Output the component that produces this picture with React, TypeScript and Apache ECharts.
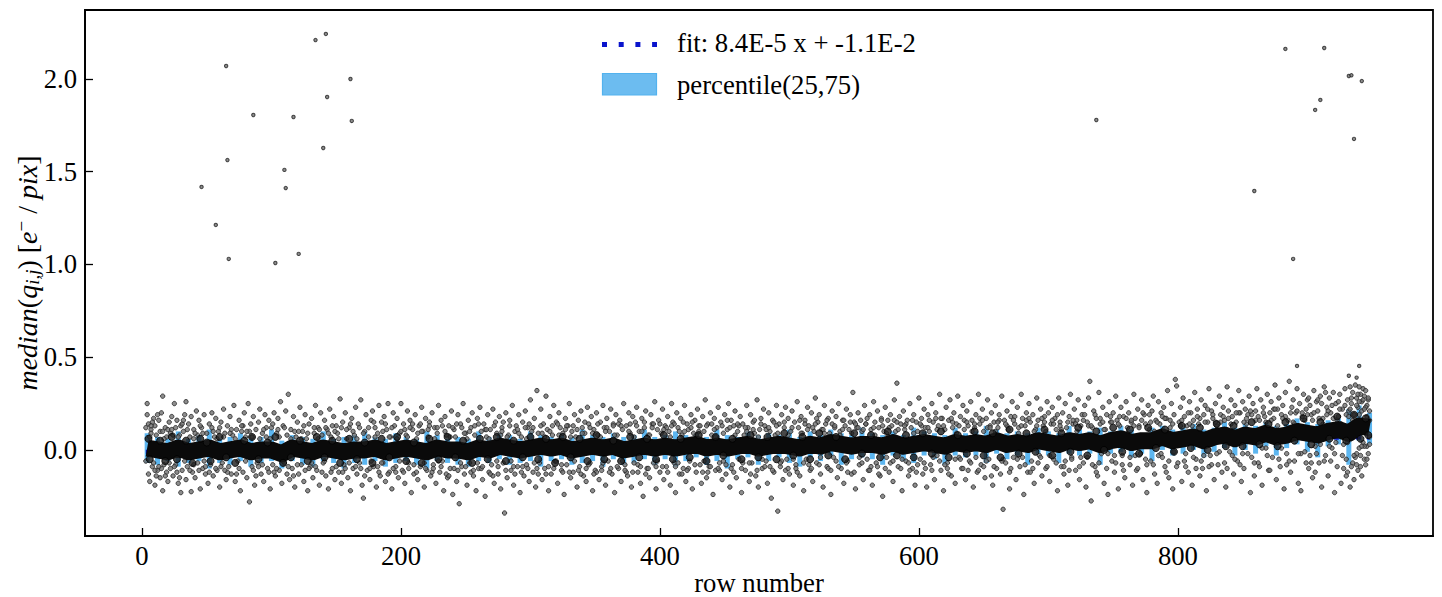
import React, { useEffect, useRef } from "react";
import * as echarts from "echarts";

const xTicks = [0, 200, 400, 600, 800];
const yTicks = [0, 0.5, 1, 1.5, 2];
const fitRows = [3, 948];
const fitValues = [-0.011, 0.069];

const bandRows = [4,12,20,28,36,44,52,60,68,76,84,92,100,108,116,124,132,140,148,156,164,172,180,188,196,204,212,220,228,236,244,252,260,268,276,284,292,300,308,316,324,332,340,348,356,364,372,380,388,396,404,412,420,428,436,444,452,460,468,476,484,492,500,508,516,524,532,540,548,556,564,572,580,588,596,604,612,620,628,636,644,652,660,668,676,684,692,700,708,716,724,732,740,748,756,764,772,780,788,796,804,812,820,828,836,844,852,860,868,876,884,892,900,908,916,924,932,940,948];
const bandMedian = [.01,.00,-.01,.01,-.01,.00,.01,-.01,.00,.01,-.01,.00,.00,-.02,.01,.00,-.01,.01,.00,-.01,.00,.00,.01,-.01,.00,.01,.00,-.01,.01,.00,.00,-.01,.01,.00,.02,.01,.00,.01,.02,.01,.02,.00,.01,.02,.01,.02,.00,.01,.02,.01,.02,.01,.02,.03,.01,.02,.01,.02,.03,.01,.02,.03,.02,.01,.03,.02,.04,.03,.02,.03,.03,.02,.04,.02,.03,.04,.03,.02,.04,.03,.04,.03,.05,.03,.04,.03,.05,.04,.03,.05,.04,.05,.03,.05,.06,.04,.05,.05,.07,.05,.06,.07,.05,.07,.08,.06,.08,.07,.09,.07,.08,.10,.09,.08,.10,.11,.09,.13,.12];
const bandLow = [-.07,-.08,-.06,-.09,-.07,-.06,-.10,-.07,-.08,-.06,-.09,-.07,-.06,-.10,-.06,-.08,-.09,-.06,-.07,-.10,-.07,-.08,-.06,-.09,-.07,-.06,-.08,-.10,-.06,-.07,-.08,-.09,-.06,-.07,-.05,-.08,-.07,-.06,-.09,-.06,-.05,-.08,-.07,-.06,-.09,-.05,-.08,-.07,-.05,-.08,-.05,-.09,-.06,-.04,-.08,-.06,-.10,-.05,-.04,-.08,-.06,-.04,-.07,-.09,-.04,-.06,-.03,-.08,-.05,-.04,-.05,-.08,-.03,-.06,-.07,-.03,-.05,-.08,-.03,-.04,-.03,-.07,-.02,-.05,-.03,-.08,-.02,-.03,-.07,-.02,-.03,-.02,-.08,-.02,-.01,-.04,-.02,-.06,.00,-.03,-.02,.00,-.04,-.01,.01,-.03,.00,-.02,.02,-.03,.01,.03,-.01,-.04,.02,.03,-.08,.05,.03];
const bandHigh = [.09,.07,.06,.10,.06,.08,.11,.06,.07,.09,.06,.07,.11,.05,.08,.07,.06,.10,.06,.07,.08,.10,.07,.06,.09,.07,.06,.10,.08,.06,.07,.06,.10,.07,.09,.08,.06,.10,.08,.07,.09,.07,.11,.08,.07,.09,.07,.08,.11,.07,.08,.10,.08,.09,.07,.11,.08,.07,.10,.08,.09,.08,.11,.07,.10,.08,.11,.09,.08,.12,.09,.08,.10,.08,.12,.10,.09,.08,.12,.09,.10,.13,.11,.09,.10,.09,.12,.10,.09,.13,.11,.10,.12,.10,.13,.11,.09,.12,.13,.11,.12,.14,.11,.12,.15,.12,.14,.13,.15,.13,.14,.17,.15,.14,.16,.17,.22,.24,.20];

const outliers = [[65,2.07],[134,2.21],[142,2.243],[161,2.0],[162,1.774],[143,1.903],[140,1.628],[86,1.806],[117,1.795],[110,1.51],[111,1.412],[66,1.563],[46,1.418],[57,1.213],[67,1.03],[103,1.008],[121,1.057],[737,1.779],[859,1.396],[883,2.162],[913,2.167],[889,1.03],[906,1.833],[910,1.887],[932,2.016],[934,2.02],[936,1.677],[942,1.989],[892,.453],[940,.453],[932,.4],[938,.39]];

const cloud = [
[4,.25],[4,.19],[5,.14],[5,-.13],[6,-.17],[7,.11],[7,.09],[8,-.09],[9,.17],[9,-.07],[10,.13],[10,-.19],[11,.08],[12,-.11],[13,.16],[14,-.15],[14,.1],[15,.2],[16,.29],[16,-.22],[17,-.08],[18,.12],[19,.07],[19,-.12],[20,-.17],[21,.15],[22,.09],[22,-.1],[23,.18],[24,-.14],[25,.25],[26,-.08],[26,.12],[27,.16],[28,-.18],[29,.08],[30,-.23],[30,.13],[31,-.11],[32,.1],[33,.19],[34,.26],[34,-.16],[35,-.09],[36,.14],[37,.07],[38,-.225],[38,.18],[39,-.12],[40,.11],[41,-.15],[42,.21],[43,.08],[43,-.07],[44,.16],[45,-.21],[46,.12],[47,-.1],[48,.19],[49,-.13],[50,.09],
[51,-.18],[52,.14],[53,-.08],[54,.2],[55,-.14],[56,.07],[57,.17],[58,-.11],[59,.1],[60,-.2],[61,.15],[62,-.07],[63,.22],[64,.09],[65,-.16],[66,.13],[67,-.09],[68,.18],[69,-.13],[70,.08],[71,.24],[72,-.17],[73,.11],[74,-.06],[75,.16],[76,-.22],[77,.1],[78,-.12],[79,.2],[80,.07],[81,-.15],[82,.25],[83,-.28],[84,.14],[85,-.09],[86,.18],[87,-.19],[88,.11],[89,-.07],[90,.15],[91,.22],[92,-.13],[93,.09],[94,-.17],[95,.19],[96,.07],[97,-.1],[98,.16],[99,-.21],[100,.12],
[101,-.08],[102,.2],[103,-.14],[104,.09],[105,.17],[106,-.11],[107,.26],[108,-.18],[109,.13],[110,-.07],[111,.21],[112,.08],[113,.3],[114,-.16],[115,.11],[116,-.1],[117,.18],[118,-.2],[119,.07],[120,.15],[121,-.13],[122,.23],[123,-.08],[124,.1],[125,-.17],[126,.19],[127,.06],[128,-.22],[129,.14],[130,-.09],[131,.17],[132,-.15],[133,.09],[134,.24],[135,-.11],[136,.12],[137,-.19],[138,.2],[139,.08],[140,-.07],[141,.16],[142,-.14],[143,.11],[144,-.21],[145,.22],[146,.07],[147,-.1],[148,.18],[149,-.16],[150,.13],
[151,.09],[152,-.12],[153,.275],[154,-.18],[155,.15],[156,-.08],[157,.2],[158,.06],[159,-.15],[160,.12],[161,-.22],[162,.17],[163,-.1],[164,.08],[165,.23],[166,-.13],[167,.14],[168,-.07],[169,.27],[170,-.19],[171,-.26],[172,.1],[173,.19],[174,-.11],[175,.07],[176,-.16],[177,.16],[178,.21],[179,-.09],[180,.12],[181,-.2],[182,.09],[183,.24],[184,-.14],[185,.15],[186,-.07],[187,.18],[188,-.17],[189,.11],[190,.25],[191,-.12],[192,.07],[193,-.21],[194,.2],[195,.13],[196,-.09],[197,.17],[198,-.15],[199,.09],[200,.25],
[201,-.11],[202,.14],[203,-.18],[204,.08],[205,.21],[206,-.07],[207,.16],[208,-.23],[209,.11],[210,-.13],[211,.19],[212,.06],[213,-.16],[214,.13],[215,-.09],[216,.23],[217,.1],[218,-.2],[219,.17],[220,-.11],[221,.07],[222,.15],[223,-.14],[224,.2],[225,-.08],[226,.12],[227,-.18],[228,.09],[229,.24],[230,-.12],[231,.16],[232,-.06],[233,-.22],[234,.18],[235,.08],[236,-.15],[237,.13],[238,-.1],[239,.21],[240,-.24],[241,.11],[242,.07],[243,-.17],[244,.19],[245,-.29],[246,.14],[247,-.09],[248,.25],[249,-.13],[250,.09],
[251,-.19],[252,.16],[253,-.07],[254,.12],[255,.2],[256,-.14],[257,.08],[258,-.22],[259,.17],[260,-.1],[261,.23],[262,.1],[263,-.16],[264,.14],[265,-.25],[266,.07],[267,.19],[268,-.12],[269,.11],[270,-.08],[271,.22],[272,-.18],[273,.15],[274,.09],[275,-.13],[276,.18],[277,-.21],[278,.12],[279,-.07],[280,-.34],[281,.2],[282,-.15],[283,.08],[284,.16],[285,-.11],[286,.24],[287,-.19],[288,.1],[289,.13],[290,-.09],[291,.19],[292,-.23],[293,.07],[294,.15],[295,-.14],[296,.21],[297,-.08],[298,.12],[299,-.17],[300,.27],
[301,.1],[302,-.12],[303,.17],[304,-.2],[305,.32],[306,.09],[307,-.07],[308,.22],[309,-.16],[310,.14],[311,-.1],[312,.29],[313,.11],[314,-.22],[315,.18],[316,-.13],[317,.08],[318,.24],[319,-.06],[320,.15],[321,-.18],[322,.2],[323,.12],[324,-.11],[325,.09],[326,-.24],[327,.17],[328,-.08],[329,.13],[330,.25],[331,-.15],[332,.1],[333,-.12],[334,.19],[335,.07],[336,-.2],[337,.16],[338,-.09],[339,.21],[340,.12],[341,-.14],[342,.09],[343,-.17],[344,.23],[345,.14],[346,-.07],[347,.18],[348,-.22],[349,.11],[350,-.11],
[351,.2],[352,.08],[353,-.16],[354,.15],[355,-.09],[356,.24],[357,.12],[358,-.19],[359,.17],[360,-.06],[361,.1],[362,.22],[363,-.13],[364,.14],[365,-.23],[366,.19],[367,.08],[368,-.1],[369,.16],[370,-.17],[371,.11],[372,.25],[373,-.08],[374,.13],[375,-.14],[376,.2],[377,.09],[378,-.2],[379,.18],[380,-.07],[381,.15],[382,.23],[383,-.12],[384,.1],[385,-.18],[386,.17],[387,-.25],[388,.12],[389,.21],[390,-.1],[391,.08],[392,-.15],[393,.19],[394,.14],[395,-.07],[396,.26],[397,-.21],[398,.11],[399,.16],[400,-.12],
[401,.09],[402,.22],[403,-.16],[404,.13],[405,-.09],[406,.18],[407,.1],[408,-.19],[409,.25],[410,.15],[411,-.07],[412,-.23],[413,.2],[414,.12],[415,-.13],[416,.17],[417,.08],[418,-.1],[419,.24],[420,-.17],[421,.14],[422,.11],[423,-.06],[424,.19],[425,-.21],[426,.09],[427,.16],[428,-.12],[429,.22],[430,.13],[431,-.08],[432,-.18],[433,.18],[434,.1],[435,.27],[436,-.15],[437,.14],[438,-.09],[439,.2],[440,.08],[441,-.24],[442,.17],[443,-.11],[444,.12],[445,.23],[446,-.07],[447,.15],[448,-.16],[449,.09],[450,.19],
[451,-.13],[452,.11],[453,.25],[454,-.2],[455,.16],[456,-.08],[457,.13],[458,.21],[459,-.15],[460,.1],[461,-.05],[462,.18],[463,-.23],[464,.14],[465,.08],[466,-.11],[467,.24],[468,.12],[469,-.17],[470,.19],[471,-.07],[472,.15],[473,.09],[474,-.14],[475,.27],[476,-.2],[477,.11],[478,.17],[479,-.1],[480,.22],[481,.13],[482,-.06],[483,-.18],[484,.2],[485,.1],[486,-.26],[487,.16],[488,-.12],[489,.08],[490,.24],[491,-.33],[492,.14],[493,-.09],[494,.19],[495,-.16],[496,.12],[497,.23],[498,-.05],[499,.17],[500,-.13],
[501,.1],[502,.21],[503,-.19],[504,.15],[505,-.08],[506,.26],[507,.12],[508,-.14],[509,.18],[510,.09],[511,-.22],[512,.16],[513,-.05],[514,.23],[515,.13],[516,-.11],[517,.2],[518,-.17],[519,.1],[520,.28],[521,-.07],[522,.15],[523,.19],[524,-.13],[525,.11],[526,-.2],[527,.24],[528,.14],[529,-.09],[530,.17],[531,.09],[532,-.24],[533,.21],[534,-.04],[535,.12],[536,.18],[537,-.15],[538,.25],[539,.1],[540,-.1],[541,.16],[542,-.18],[543,.13],[544,.22],[545,-.06],[546,.11],[547,.19],[548,-.13],[549,.31],[550,.15],
[551,-.21],[552,.12],[553,.2],[554,-.08],[555,.16],[556,.1],[557,-.16],[558,.24],[559,.14],[560,-.05],[561,-.11],[562,.19],[563,.11],[564,-.19],[565,.26],[566,.15],[567,-.07],[568,.21],[569,.12],[570,-.14],[571,.17],[572,-.25],[573,.1],[574,.23],[575,-.04],[576,.16],[577,-.12],[578,.19],[579,.13],[580,-.17],[581,.27],[582,.1],[583,.36],[584,-.09],[585,.18],[586,.14],[587,-.22],[588,.21],[589,.11],[590,-.06],[591,.16],[592,-.14],[593,.25],[594,.12],[595,-.1],[596,.19],[597,-.19],[598,.15],[599,.1],[600,.28],
[601,-.05],[602,.17],[603,-.13],[604,.22],[605,.12],[606,-.2],[607,.19],[608,.1],[609,-.08],[610,.25],[611,.15],[612,-.16],[613,.2],[614,-.03],[615,.13],[616,.3],[617,-.11],[618,.17],[619,-.22],[620,.11],[621,.23],[622,-.07],[623,.16],[624,.27],[625,-.14],[626,.12],[627,.2],[628,-.18],[629,.14],[630,.29],[631,-.04],[632,.18],[633,-.1],[634,.24],[635,.11],[636,-.16],[637,.21],[638,.13],[639,-.06],[640,.26],[641,.16],[642,-.2],[643,.12],[644,.19],[645,-.12],[646,.3],[647,.14],[648,-.08],[649,.22],[650,.1],
[651,-.15],[652,.17],[653,.27],[654,-.05],[655,.13],[656,.2],[657,-.19],[658,.15],[659,.24],[660,-.1],[661,.12],[662,.19],[663,-.13],[664,.29],[665,-.32],[666,.16],[667,-.07],[668,.21],[669,.11],[670,-.21],[671,.18],[672,.26],[673,-.04],[674,.14],[675,-.16],[676,.23],[677,.12],[678,-.09],[679,.3],[680,.17],[681,-.24],[682,.13],[683,.2],[684,-.12],[685,.25],[686,.15],[687,-.06],[688,.19],[689,-.18],[690,.11],[691,.28],[692,.16],[693,-.03],[694,.22],[695,-.14],[696,.13],[697,.18],[698,-.1],[699,.26],[700,.2],
[701,-.17],[702,.14],[703,.23],[704,-.05],[705,.17],[706,.11],[707,-.22],[708,.28],[709,.15],[710,-.09],[711,.2],[712,-.13],[713,.25],[714,.12],[715,-.19],[716,.18],[717,.3],[718,-.04],[719,.14],[720,.22],[721,-.11],[722,.16],[723,.27],[724,-.16],[725,.13],[726,.19],[727,-.07],[728,.24],[729,-.2],[730,.15],[731,.28],[732,.37],[733,-.275],[734,.12],[735,.21],[736,-.09],[737,.17],[738,-.14],[739,.31],[740,.14],[741,-.02],[742,.23],[743,-.18],[744,.11],[745,.19],[746,-.24],[747,.26],[748,.15],[749,-.06],[750,.2],
[751,-.12],[752,.29],[753,.16],[754,-.21],[755,.13],[756,.23],[757,-.03],[758,.18],[759,-.15],[760,.26],[761,.12],[762,.2],[763,-.08],[764,.15],[765,-.19],[766,.3],[767,.17],[768,-.11],[769,.22],[770,.13],[771,-.02],[772,.27],[773,-.16],[774,.19],[775,.14],[776,-.23],[777,.24],[778,.11],[779,-.06],[780,.21],[781,.29],[782,-.13],[783,.16],[784,-.18],[785,.26],[786,.14],[787,.2],[788,-.04],[789,.23],[790,-.09],[791,.17],[792,.32],[793,-.15],[794,.12],[795,.25],[796,-.21],[797,.19],[798,.38],[799,.345],[800,-.07],
[801,.15],[802,.23],[803,-.17],[804,.28],[805,.18],[806,-.02],[807,.13],[808,-.12],[809,.26],[810,.2],[811,-.19],[812,.16],[813,.31],[814,-.05],[815,.22],[816,.14],[817,-.14],[818,.27],[819,-.1],[820,.19],[821,.24],[822,-.22],[823,.15],[824,.33],[825,-.03],[826,.21],[827,.17],[828,-.16],[829,.25],[830,.13],[831,-.08],[832,.29],[833,.19],[834,-.12],[835,.23],[836,.16],[837,-.2],[838,.34],[839,.21],[840,-.01],[841,.27],[842,.18],[843,-.13],[844,.24],[845,.15],[846,-.06],[847,.32],[848,.2],[849,-.17],[850,.26],
[851,-.1],[852,.22],[853,.17],[854,-.02],[855,.29],[856,-.23],[857,.19],[858,.25],[859,-.14],[860,.21],[861,.33],[862,-.07],[863,.16],[864,.27],[865,-.19],[866,.23],[867,.18],[868,.01],[869,.3],[870,-.11],[871,.2],[872,.26],[873,-.04],[874,.17],[875,.35],[876,-.16],[877,.22],[878,.28],[879,-.09],[880,.19],[881,.24],[882,-.21],[883,.31],[884,-.02],[885,.16],[886,.37],[887,-.12],[888,.23],[889,.27],[890,-.06],[891,.2],[892,.33],[893,-.18],[894,.25],[895,-.22],[896,.18],[897,.3],[898,-.01],[899,.22],[900,.27],
[901,-.1],[902,.24],[903,.19],[904,-.15],[905,.32],[906,.02],[907,.26],[908,.21],[909,-.07],[910,.29],[911,-.2],[912,.17],[913,.34],[914,-.03],[915,.23],[916,-.14],[917,.28],[918,.2],[919,.01],[920,.31],[921,-.23],[922,.25],[923,-.09],[924,.18],[925,.3],[926,-.18],[927,.22],[928,.03],[929,.33],[930,-.05],[931,.27],[931,-.12],[932,.21],[933,-.2],[933,.34],[934,.25],[935,-.07],[935,.31],[936,.19],[936,-.16],[937,.35],[938,.28],[938,-.02],[939,.23],[939,-.11],[940,.34],[940,.01],[941,.3],[941,-.09],[942,.26],[942,-.14],[943,.33],[943,.04],[944,.29],[944,-.05],[945,.32],[945,-.08],[946,.24],[946,.02],[947,.27],[947,-.02],[948,.21],[948,.07]
];

const cloudInner = [
[3,.12],[3,-.06],[6,.07],[8,.15],[11,-.14],[12,.19],[15,-.1],[17,.06],[20,.11],[21,-.07],[24,.08],[27,-.12],[28,.07],[31,.14],[33,-.06],[35,.11],[40,.06],[40,-.08],[44,-.11],[47,.09],[48,-.06],[52,-.12],[55,.1],[58,.06],[61,-.09],[63,.07],[66,-.12],[69,.11],[72,.06],[75,-.1],[78,.13],[80,-.06],[83,.1],[85,.07],[88,-.14],[91,.06],[93,-.08],[96,.12],[99,.06],
[101,.14],[104,-.1],[106,.07],[109,-.06],[112,-.13],[115,.06],[118,.1],[120,-.08],[123,.06],[126,-.11],[128,.09],[131,-.07],[133,.12],[136,.06],[139,-.12],[141,-.06],[144,.09],[147,.13],[150,-.09],[152,.06],[155,-.12],[158,.11],[160,-.07],[163,.1],[166,.06],[169,-.1],[172,-.14],[175,.12],[177,-.06],[180,.07],[183,-.12],[185,-.07],[188,.14],[191,.07],[194,-.1],[197,.06],[199,-.06],
[202,-.12],[205,.07],[207,.12],[210,-.08],[213,.09],[215,.14],[218,-.07],[221,.11],[224,-.12],[226,.06],[229,-.06],[232,.13],[235,-.13],[238,.07],[241,-.1],[243,.14],[246,-.07],[249,.09],[251,.06],[254,-.12],[257,.13],[259,-.07],[262,-.1],[265,.11],[268,.06],[271,-.14],[274,-.06],[277,.08],[279,.15],[282,.07],[285,-.06],[288,-.13],[291,.09],[294,-.09],[297,.06],[299,.14],
[303,-.07],[306,-.13],[309,.09],[311,.07],[314,-.09],[317,.13],[320,-.06],[322,.08],[325,-.12],[328,.13],[331,.07],[334,-.06],[336,.11],[339,-.13],[342,.15],[345,-.08],[348,.09],[351,-.12],[354,.07],[356,-.07],[359,.12],[362,-.1],[365,.08],[368,.14],[371,-.06],[374,-.12],[377,.14],[380,.07],[383,-.08],[386,.1],[389,-.13],[392,.08],[395,.14],[398,-.06],
[402,-.09],[405,.12],[408,.07],[411,.14],[414,-.07],[417,-.13],[419,.1],[422,-.1],[425,.15],[428,.08],[431,.13],[434,-.06],[437,-.12],[440,.14],[443,.07],[446,-.11],[449,-.06],[452,.16],[455,-.1],[458,.08],[461,.13],[464,-.07],[467,.1],[470,-.13],[473,.16],[476,.07],[479,-.05],[482,.11],[485,-.09],[488,.15],[491,.09],[494,-.06],[497,-.11],[499,.08],
[503,-.05],[506,-.12],[509,.09],[512,.14],[515,-.08],[518,.12],[521,.17],[524,-.04],[527,.09],[530,-.1],[533,.14],[536,-.06],[539,.08],[542,.16],[545,-.12],[548,.09],[551,.14],[554,-.04],[557,.11],[560,.17],[563,-.09],[566,.08],[569,-.13],[572,.13],[575,.09],[578,-.07],[581,.16],[584,.11],[587,-.05],[590,.14],[593,-.11],[596,.09],[599,-.08],
[602,.13],[605,-.1],[608,.16],[611,-.04],[614,.11],[617,.17],[620,-.08],[623,-.13],[626,.15],[629,.09],[632,-.05],[635,.16],[638,-.11],[641,.1],[644,-.04],[647,.17],[650,-.09],[653,.12],[656,-.14],[659,.1],[662,.16],[665,-.05],[668,.13],[671,-.1],[674,.18],[677,.09],[680,-.04],[683,.16],[686,-.12],[689,.1],[692,-.07],[695,.17],[698,.1],
[701,-.03],[704,.14],[707,.19],[710,.11],[713,-.06],[716,-.11],[719,.16],[722,.1],[725,-.04],[728,.19],[731,.13],[734,-.08],[737,-.12],[740,.17],[743,.11],[746,-.02],[749,.15],[752,-.07],[755,.18],[758,-.11],[761,.09],[764,.16],[767,-.03],[770,.12],[773,.2],[776,-.08],[779,.15],[782,.1],[785,-.03],[788,.18],[791,-.12],[794,.16],[797,-.01],
[802,.13],[805,-.06],[808,.2],[811,.13],[814,-.1],[817,.17],[820,-.03],[823,.22],[826,-.08],[829,.15],[832,-.01],[835,.18],[838,-.1],[841,.14],[844,-.05],[847,.2],[850,-.02],[853,.14],[856,.21],[859,-.07],[862,.18],[865,.01],[868,.15],[871,-.11],[874,.22],[877,.13],[880,.01],[883,.18],[886,-.06],[889,.15],[892,.21],[895,-.02],[898,.16],
[901,.28],[902,-.03],[904,.16],[906,-.12],[908,.27],[910,.03],[912,.14],[914,.31],[916,.21],[918,-.06],[920,.17],[922,.04],[924,.26],[926,.14],[928,-.1],[930,.19],[931,.04],[933,.22],[934,-.09],[935,.16],[937,-.04],[938,.24],[939,.3],[940,.19],[941,-.03],[942,.21],[943,.27],[944,.02],[945,.23],[946,.18],[947,.28],[948,.03]
];

const cloudMid = [
[7,.13],[10,-.11],[13,-.09],[16,.1],[18,-.14],[23,.11],[25,-.09],[29,-.15],[32,.16],[37,-.11],[41,.09],[45,.13],[49,-.09],[54,.12],[57,-.1],[60,.12],[64,-.11],[68,.09],[73,-.13],[77,.13],[81,.1],[86,-.11],[90,-.09],[94,.11],[98,-.12],
[102,-.12],[105,.11],[110,.12],[113,-.09],[117,-.14],[121,.1],[125,.13],[129,-.1],[134,-.09],[137,.11],[142,.12],[146,-.12],[149,.1],[154,.12],[157,-.1],[161,.14],[165,-.09],[168,.12],[171,.09],[176,-.1],[179,.15],[182,-.09],[186,.1],[190,-.13],[193,.12],[196,-.12],[200,.1],
[203,.11],[206,-.1],[209,.14],[212,-.12],[216,.1],[219,-.1],[222,.13],[225,-.1],[228,.12],[231,-.09],[234,.1],[237,-.14],[240,.12],[244,-.11],[247,.12],[250,-.09],[253,.1],[256,-.11],[260,.14],[263,-.09],[266,.11],[269,-.13],[272,.13],[275,-.09],[278,.1],[281,-.11],[284,.13],[287,-.09],[290,.11],[293,-.12],[296,.12],[298,-.1],
[302,.12],[305,-.1],[308,.13],[312,-.13],[315,.1],[318,-.1],[321,.14],[324,-.08],[327,.11],[330,-.12],[333,.13],[337,-.11],[340,.09],[343,-.1],[346,.12],[349,-.13],[352,.14],[355,-.11],[358,.1],[361,-.12],[364,.13],[367,-.09],[370,.13],[373,-.11],[376,.1],[379,-.12],[382,.13],[385,-.09],[388,.15],[391,-.1],[394,.12],[397,-.09],[400,.14],
[403,.11],[406,-.12],[409,.13],[412,-.09],[415,.1],[418,.15],[421,-.11],[424,.12],[427,-.08],[430,.1],[433,-.12],[436,.13],[439,-.09],[442,.11],[445,-.1],[448,.13],[451,-.08],[454,.12],[457,-.12],[460,.14],[463,-.1],[466,.12],[469,-.07],[472,.11],[475,-.11],[478,.14],[481,-.09],[484,.12],[487,-.11],[490,.13],[493,-.07],[496,.15],[499,-.1],
[502,.12],[505,-.1],[508,.16],[511,-.07],[514,.11],[517,-.1],[520,.14],[523,-.08],[526,.11],[529,.16],[532,-.11],[535,.13],[538,-.09],[541,.11],[544,-.07],[547,.15],[550,-.12],[553,.12],[556,-.07],[559,.14],[562,-.11],[565,.12],[568,-.09],[571,.16],[574,-.1],[577,.12],[580,-.06],[583,.15],[586,-.1],[589,.13],[592,-.07],[595,.16],[598,-.12],
[601,.14],[604,-.07],[607,.12],[610,-.11],[613,.17],[616,-.06],[619,.13],[622,-.1],[625,.17],[628,-.05],[631,.13],[634,-.1],[637,.15],[640,-.07],[643,.14],[646,-.11],[649,.16],[652,-.06],[655,.12],[658,-.09],[661,.15],[664,-.06],[667,.14],[670,-.12],[673,.16],[676,-.05],[679,.13],[682,-.08],[685,.17],[688,-.1],[691,.13],[694,-.04],[697,.15],[699,-.09],
[703,.16],[706,-.07],[709,.13],[712,-.09],[715,.15],[718,-.05],[721,.14],[724,-.09],[727,.16],[730,-.04],[733,.13],[736,.19],[739,-.07],[742,.15],[745,-.1],[748,.18],[751,-.03],[754,.14],[757,-.08],[760,.17],[763,-.04],[766,.13],[769,-.1],[772,.16],[775,-.05],[778,.19],[781,-.08],[784,.15],[787,-.02],[790,.17],[793,-.06],[796,.14],[799,-.09],
[803,.16],[806,-.09],[809,.14],[812,-.04],[815,.18],[818,-.06],[821,.15],[824,-.09],[827,.19],[830,-.02],[833,.15],[836,-.07],[839,.17],[842,-.03],[845,.2],[848,-.08],[851,.15],[854,.19],[857,-.04],[860,.16],[863,-.09],[866,.2],[869,-.03],[872,.16],[875,.22],[878,-.05],[881,.17],[884,-.08],[887,.2],[890,.14],[893,-.02],[896,.2],[899,-.07],
[900,.19],[903,-.07],[905,.2],[907,-.02],[909,.17],[911,.25],[913,-.06],[915,.19],[917,.02],[919,.24],[921,-.02],[923,.16],[925,.22],[927,-.03],[929,.24],[930,-.14],[932,.18],[934,.28],[936,-.03],[938,-.08],[940,.26],[942,.02],[944,.22],[946,-.05],[948,.16]
];

const coreBlobs = [
[5,.06],[6,-.05],[14,.05],[18,-.06],[23,.07],[27,-.05],[34,.05],[39,-.07],[45,.06],[50,.04],[53,-.06],[60,.07],[65,-.04],[72,-.07],[79,.05],[85,.07],[90,-.05],[97,.04],[103,.07],[109,-.07],[115,-.04],[122,.05],[128,-.06],[135,.07],[141,-.04],[147,.05],[153,-.07],[160,.06],[166,-.05],[172,.04],[178,-.07],[185,.06],[191,-.04],[197,.07],[204,-.06],[210,.04],[216,-.07],[222,.06],[229,-.05],[236,.07],[242,-.04],[248,.05],[255,-.07],[261,.06],[267,-.05],[274,.07],[281,-.06],[287,.05],[294,-.04],[300,.07],[306,-.05],[312,.06],[319,-.07],[325,.07],[331,-.04],[338,.06],[344,-.06],[351,.08],[357,-.05],[364,.05],[370,-.06],[377,.07],[384,-.04],[390,.06],[397,-.05],[403,.08],[410,-.05],[416,.06],[423,-.04],[430,.08],[436,-.06],[443,.07],[449,-.03],[456,.06],[463,-.05],[470,.08],[476,-.04],[483,.07],[490,-.05],[496,.09],[503,-.03],[510,.07],[516,-.05],[523,.09],[530,-.03],[536,.07],[543,-.05],[550,.09],[556,-.02],[563,.08],[570,-.04],[576,.1],[583,-.03],[590,.08],[596,-.04],[603,.09],[610,-.02],[617,.1],[623,-.04],[630,.08],[637,-.02],[643,.1],[650,-.03],[657,.09],[663,-.04],[670,.11],[677,-.02],[683,.09],[690,-.01],[697,.11],[703,-.03],[710,.09],[717,-.01],[723,.12],[730,-.03],[737,.1],[743,.0],[750,.12],[757,-.01],[763,.11],[770,-.02],[777,.12],[783,.01],[790,.11],[797,-.01],[803,.13],[810,.01],[817,.12],[823,.0],[830,.14],[837,.02],[843,.13],[850,.02],[857,.15],[863,.03],[870,.14],[877,.02],[883,.15],[890,.05],[897,.17],[903,.03],[910,.15],[917,.06],[923,.18],[930,.05],[936,.19],[941,.06],[945,.17],[947,.08]
];

export default function App() {
  const ref = useRef<HTMLDivElement>(null);
  useEffect(() => {
    const chart = echarts.init(ref.current!, undefined, { renderer: "svg" });
    const font = "'Liberation Serif', serif";
    const axisBase = {
      axisLine: { onZero: false, lineStyle: { color: "#000", width: 1.8 } },
      splitLine: { show: false },
      minorTick: { show: false },
      nameMoveOverlap: false,
    };
    const dot = { color: "#707070", borderColor: "#222", borderWidth: 1 };
    const labelStyle = { fontFamily: font, fontSize: 26.7, fill: "#000" };
    chart.setOption({
      animation: false,
      backgroundColor: "#fff",
      textStyle: { fontFamily: font },
      grid: { left: 85, right: 9, top: 10, bottom: 61, show: true, borderColor: "#000", borderWidth: 1.8, outerBoundsMode: "none" },
      graphic: [
        { type: "line", z: 50, shape: { x1: 602, y1: 44.5, x2: 657, y2: 44.5 }, style: { stroke: "#0a14cc", lineWidth: 5, lineDash: [5, 11.7] } },
        { type: "rect", z: 50, shape: { x: 602.5, y: 73.5, width: 54, height: 21.5 }, style: { fill: "#6cbcf0", stroke: "#52b2ee", lineWidth: 1.2 } },
        { type: "text", z: 50, x: 677, y: 43, style: { ...labelStyle, text: "fit: 8.4E-5 x + -1.1E-2", verticalAlign: "middle" } },
        { type: "text", z: 50, x: 677, y: 85, style: { ...labelStyle, text: "percentile(25,75)", verticalAlign: "middle" } },
      ],
      xAxis: {
        ...axisBase, type: "value", min: -44, max: 997,
        name: "row number", nameLocation: "middle", nameGap: 33,
        nameTextStyle: { fontFamily: font, fontSize: 26.7, color: "#000" },
        axisTick: { inside: true, length: 8, customValues: xTicks, lineStyle: { color: "#000", width: 1.3 } },
        axisLabel: { customValues: xTicks, fontFamily: font, fontSize: 26.7, color: "#000", margin: 6 },
      },
      yAxis: {
        ...axisBase, type: "value", min: -0.464, max: 2.372,
        name: "{i|median}{r|(}{i|q}{s|i,j}{r|) [}{i|e}{u|−}{r| / }{i|pix}{r|]}",
        nameLocation: "middle", nameGap: 43,
        nameTextStyle: {
          fontFamily: font, fontSize: 28, color: "#000",
          rich: {
            i: { fontFamily: font, fontStyle: "italic", fontSize: 28, color: "#000" },
            r: { fontFamily: font, fontSize: 28, color: "#000" },
            s: { fontFamily: font, fontStyle: "italic", fontSize: 19, color: "#000", verticalAlign: "bottom", lineHeight: 30 },
            u: { fontFamily: font, fontSize: 19, color: "#000", verticalAlign: "top", lineHeight: 30 },
          },
        },
        axisTick: { inside: true, length: 8, customValues: yTicks, lineStyle: { color: "#000", width: 1.3 } },
        axisLabel: {
          customValues: yTicks, fontFamily: font, fontSize: 26.7, color: "#000", margin: 8,
          formatter: (v: number) => v.toFixed(1),
        },
      },
      series: [
        {
          type: "custom", name: "percentile(25,75)", z: 1, clip: true,
          encode: { x: 0, y: [1, 2] },
          data: bandRows.map((r, i) => [r, bandLow[i], bandHigh[i]]),
          renderItem: (_: any, api: any) => {
            const a = api.coord([api.value(0), api.value(1)]);
            const b = api.coord([api.value(0), api.value(2)]);
            return {
              type: "rect",
              shape: { x: a[0] - 2.5, y: b[1], width: 5, height: a[1] - b[1] },
              style: { fill: "#5cb6f0" },
            };
          },
        },
        {
          type: "line", name: "fit: 8.4E-5 x + -1.1E-2", z: 2, showSymbol: false, symbol: "none",
          lineStyle: { color: "#0a14cc", width: 4.5, type: [5, 6] },
          data: fitRows.map((r, i) => [r, fitValues[i]]),
        },
        { type: "scatter", name: "cloud", z: 3, symbolSize: 4.4, itemStyle: dot, data: cloud },
        { type: "scatter", name: "cloud inner", z: 3, symbolSize: 4.4, itemStyle: dot, data: cloudInner },
        { type: "scatter", name: "cloud mid", z: 3, symbolSize: 4.4, itemStyle: dot, data: cloudMid },
        { type: "scatter", name: "outliers", z: 3, symbolSize: 3.4, itemStyle: dot, data: outliers },
        {
          type: "line", name: "median", z: 4, showSymbol: false, symbol: "none",
          lineStyle: { color: "#0a0a0a", width: 17, cap: "butt", join: "round" },
          data: bandRows.map((r, i) => [r, bandMedian[i]]),
        },
        {
          type: "scatter", name: "core", z: 4, symbolSize: 7,
          itemStyle: { color: "#1a1a1a", borderColor: "#000", borderWidth: 1 },
          data: coreBlobs,
        },
      ],
    });
    return () => chart.dispose();
  }, []);
  return <div ref={ref} style={{ position: "absolute", left: 0, top: 0, width: 1442, height: 597 }} />;
}
